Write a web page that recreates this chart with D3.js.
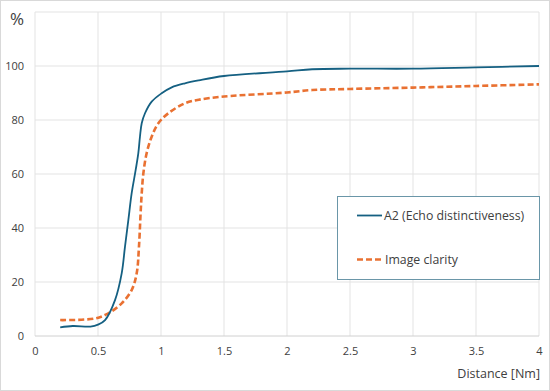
<!DOCTYPE html>
<html><head><meta charset="utf-8">
<script src="https://cdn.jsdelivr.net/npm/d3@7"></script>
<style>body{margin:0;background:#fff}svg{display:block}text{font-family:"Open Sans","Noto Sans",sans-serif;fill:#404040}</style>
</head><body><div id="chart"></div>
<script>
const xTicks = [0, 0.5, 1, 1.5, 2, 2.5, 3, 3.5, 4];
const xTickLabels = ["0", "0.5", "1", "1.5", "2", "2.5", "3", "3.5", "4"];
const yTicks = [0, 20, 40, 60, 80, 100];
const seriesNames = ["A2 (Echo distinctiveness)", "Image clarity"];
const distA2 = [0.2, 0.3, 0.44, 0.5, 0.556, 0.635, 0.688, 0.714, 0.741, 0.767, 0.799, 0.82, 0.833, 0.847, 0.873, 0.926, 1.005, 1.085, 1.19, 1.3, 1.5, 2.0, 2.2, 2.5, 3.0, 3.5, 4.0];
const valA2 = [3.2, 3.7, 3.5, 4.2, 5.9, 13.3, 23.2, 33, 43, 52.8, 61.5, 67.7, 73.8, 78.8, 82.5, 86.8, 89.9, 92.1, 93.6, 94.7, 96.3, 98, 98.8, 99, 99, 99.5, 100];
const distClarity = [0.2, 0.476, 0.582, 0.688, 0.767, 0.807, 0.825, 0.838, 0.847, 0.86, 0.886, 0.926, 0.979, 1.058, 1.19, 1.3, 1.5, 2.0, 2.2, 2.5, 3.0, 3.5, 4.0];
const valClarity = [5.9, 6.5, 8.4, 12.1, 17, 23.2, 33, 45.4, 52.8, 60.2, 67.7, 73.8, 78.8, 82.5, 86.2, 87.5, 88.7, 90.2, 91.1, 91.5, 92, 92.6, 93.2];

const W = 550, H = 391;
const svg = d3.select("#chart").append("svg").attr("width", W).attr("height", H);
svg.append("rect").attr("x",0.5).attr("y",0.5).attr("width",W-1).attr("height",H-1).attr("fill","#fff").attr("stroke","#d9d9d9");

const x = d3.scaleLinear().domain([0, 4]).range([35, 539]);
const y = d3.scaleLinear().domain([0, 120]).range([336, 12]);

const grid = svg.append("g");
xTicks.forEach(t => grid.append("line").attr("x1", x(t)).attr("x2", x(t)).attr("y1", y(0)).attr("y2", y(120)).attr("stroke", "#e3e3e3"));
[...yTicks, 120].forEach(t => grid.append("line").attr("x1", x(0)).attr("x2", x(4)).attr("y1", y(t)).attr("y2", y(t)).attr("stroke", t === 0 ? "#d0d0d0" : "#e3e3e3"));

const xAxis = svg.append("g").attr("transform", `translate(0,${y(0)})`)
  .call(d3.axisBottom(x).tickValues(xTicks).tickFormat((d, i) => xTickLabels[i]).tickSize(0).tickPadding(11));
xAxis.select(".domain").remove();
xAxis.selectAll("text").style("font-size", "11px").attr("fill", "#404040");

const yAxis = svg.append("g").attr("transform", `translate(24,0)`)
  .call(d3.axisLeft(y).tickValues(yTicks).tickSize(0).tickPadding(0));
yAxis.select(".domain").remove();
yAxis.selectAll("text").style("font-size", "11px").attr("fill", "#404040");

svg.append("text").attr("x", 24).attr("y", 25).attr("text-anchor", "end").style("font-size", "17px").attr("fill","#262626").text("%");
svg.append("text").attr("x", 540).attr("y", 378).attr("text-anchor", "end").style("font-size", "12.5px").attr("fill","#262626").text("Distance [Nm]");

const line = d3.line().x(d => x(d[0])).y(d => y(d[1])).curve(d3.curveCatmullRom.alpha(0.5));
svg.append("path").datum(distClarity.map((d, i) => [d, valClarity[i]]))
  .attr("d", line).attr("fill", "none").attr("stroke", "#E97132").attr("stroke-width", 2.6).attr("stroke-dasharray", "6,3");
svg.append("path").datum(distA2.map((d, i) => [d, valA2[i]]))
  .attr("d", line).attr("fill", "none").attr("stroke", "#156082").attr("stroke-width", 1.8);

const lg = svg.append("g");
lg.append("rect").attr("x", 337.5).attr("y", 196.5).attr("width", 202).attr("height", 83).attr("fill", "#fff").attr("stroke", "#6a96a8").attr("stroke-width", 1);
lg.append("line").attr("x1", 357).attr("x2", 382).attr("y1", 215.5).attr("y2", 215.5).attr("stroke", "#156082").attr("stroke-width", 1.8);
lg.append("text").attr("x", 384).attr("y", 220).style("font-size", "12.3px").attr("fill","#262626").text(seriesNames[0]);
lg.append("line").attr("x1", 357).attr("x2", 381).attr("y1", 259.5).attr("y2", 259.5).attr("stroke", "#E97132").attr("stroke-width", 2.4).attr("stroke-dasharray", "6,3");
lg.append("text").attr("x", 385).attr("y", 264).style("font-size", "12.3px").attr("fill","#262626").text(seriesNames[1]);
</script></body></html>
